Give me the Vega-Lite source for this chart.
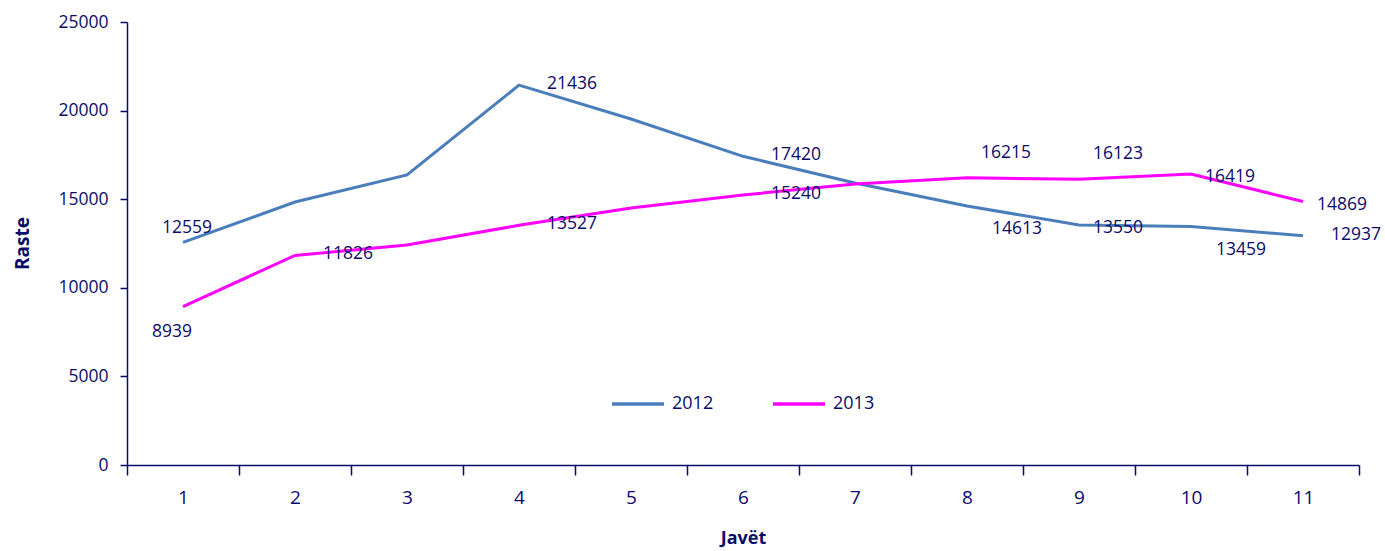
{
  "$schema": "https://vega.github.io/schema/vega-lite/v6.json",
  "description": "Raste sipas javëve, 2012 dhe 2013",
  "autosize": {"type": "none"},
  "padding": {"left": 127, "top": 22, "right": 26, "bottom": 86},
  "width": 1232,
  "height": 443,
  "background": "white",
  "config": {
    "view": {"stroke": null},
    "font": "Open Sans",
    "text": {"font": "Open Sans", "fontSize": 17.5, "color": "#0B0B6B"}
  },
  "data": {
    "values": [
      {"week": 1, "year": "2012", "value": 12559},
      {"week": 2, "year": "2012", "value": 14842},
      {"week": 3, "year": "2012", "value": 16366},
      {"week": 4, "year": "2012", "value": 21436},
      {"week": 5, "year": "2012", "value": 19526},
      {"week": 6, "year": "2012", "value": 17420},
      {"week": 7, "year": "2012", "value": 15914},
      {"week": 8, "year": "2012", "value": 14613},
      {"week": 9, "year": "2012", "value": 13550},
      {"week": 10, "year": "2012", "value": 13459},
      {"week": 11, "year": "2012", "value": 12937},
      {"week": 1, "year": "2013", "value": 8939},
      {"week": 2, "year": "2013", "value": 11826},
      {"week": 3, "year": "2013", "value": 12415},
      {"week": 4, "year": "2013", "value": 13527},
      {"week": 5, "year": "2013", "value": 14503},
      {"week": 6, "year": "2013", "value": 15240},
      {"week": 7, "year": "2013", "value": 15858},
      {"week": 8, "year": "2013", "value": 16215},
      {"week": 9, "year": "2013", "value": 16123},
      {"week": 10, "year": "2013", "value": 16419},
      {"week": 11, "year": "2013", "value": 14869}
    ]
  },
  "encoding": {
    "x": {
      "field": "week",
      "type": "ordinal",
      "bandPosition": 0.5,
      "scale": {"type": "band", "paddingInner": 0, "paddingOuter": 0},
      "axis": {
        "title": "Javët",
        "labelAngle": 0,
        "tickBand": "extent",
        "domainColor": "#0B0B6B",
        "domainWidth": 1.5,
        "tickColor": "#0B0B6B",
        "tickWidth": 1.5,
        "tickSize": 10,
        "labelColor": "#0B0B6B",
        "labelFont": "Open Sans",
        "labelFontSize": 19,
        "labelPadding": 13,
        "titleColor": "#0B0B6B",
        "titleFont": "Open Sans",
        "titleFontSize": 18,
        "titleFontWeight": "bold",
        "titleY": 73,
        "titleBaseline": "middle"
      }
    },
    "y": {
      "field": "value",
      "type": "quantitative",
      "scale": {"domain": [0, 25000], "nice": false},
      "axis": {
        "title": "Raste",
        "values": [0, 5000, 10000, 15000, 20000, 25000],
        "format": "d",
        "grid": false,
        "domainColor": "#0B0B6B",
        "domainWidth": 1.5,
        "tickColor": "#0B0B6B",
        "tickWidth": 1.5,
        "tickSize": 7,
        "labelColor": "#0B0B6B",
        "labelFont": "Open Sans",
        "labelFontSize": 17.5,
        "labelPadding": 12,
        "titleColor": "#0B0B6B",
        "titleFont": "Open Sans",
        "titleFontSize": 19,
        "titleFontWeight": "bold",
        "titleAngle": -90,
        "titleX": -105,
        "titleY": 221,
        "titleAlign": "center",
        "titleBaseline": "middle"
      }
    }
  },
  "layer": [
    {
      "mark": {"type": "line", "strokeWidth": 3},
      "encoding": {
        "color": {
          "field": "year",
          "type": "nominal",
          "scale": {"domain": ["2012", "2013"], "range": ["#4A7EBB", "#FF00FF"]},
          "legend": {
            "title": null,
            "orient": "none",
            "direction": "horizontal",
            "legendX": 483,
            "legendY": 354,
            "symbolType": "stroke",
            "symbolSize": 2700,
            "symbolStrokeWidth": 3.5,
            "labelFont": "Open Sans",
            "labelFontSize": 18,
            "labelColor": "#0B0B6B",
            "labelOffset": 6,
            "columnPadding": 52
          }
        }
      }
    },
    {
      "transform": [{"filter": "(datum.year == '2012' && (datum.week == 4 || datum.week == 6 || datum.week == 11)) || (datum.year == '2013' && (datum.week == 2 || datum.week == 4 || datum.week == 6))"}],
      "mark": {"type": "text", "dx": 53, "dy": -1},
      "encoding": {"text": {"field": "value", "type": "quantitative", "format": "d"}}
    },
    {
      "transform": [{"filter": "(datum.year == '2013' && (datum.week == 10 || datum.week == 11)) || (datum.year == '2012' && datum.week == 9)"}],
      "mark": {"type": "text", "dx": 39, "dy": 3},
      "encoding": {"text": {"field": "value", "type": "quantitative", "format": "d"}}
    },
    {
      "transform": [{"filter": "datum.year == '2012' && (datum.week == 8 || datum.week == 10)"}],
      "mark": {"type": "text", "dx": 50, "dy": 23},
      "encoding": {"text": {"field": "value", "type": "quantitative", "format": "d"}}
    },
    {
      "transform": [{"filter": "datum.year == '2013' && (datum.week == 8 || datum.week == 9)"}],
      "mark": {"type": "text", "dx": 39, "dy": -25},
      "encoding": {"text": {"field": "value", "type": "quantitative", "format": "d"}}
    },
    {
      "transform": [{"filter": "datum.year == '2012' && datum.week == 1"}],
      "mark": {"type": "text", "dx": 4, "dy": -14},
      "encoding": {"text": {"field": "value", "type": "quantitative", "format": "d"}}
    },
    {
      "transform": [{"filter": "datum.year == '2013' && datum.week == 1"}],
      "mark": {"type": "text", "dx": -11, "dy": 25},
      "encoding": {"text": {"field": "value", "type": "quantitative", "format": "d"}}
    }
  ]
}
